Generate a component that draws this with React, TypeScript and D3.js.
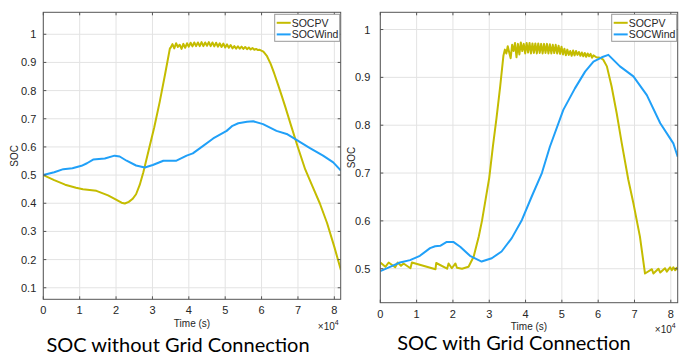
import * as d3 from "d3"

const xTicks = [0, 1, 2, 3, 4, 5, 6, 7, 8]
const yTicksNoGrid = [0.1, 0.2, 0.3, 0.4, 0.5, 0.6, 0.7, 0.8, 0.9, 1]
const yTicksGrid = [0.5, 0.6, 0.7, 0.8, 0.9, 1]
const seriesNames = ["SOCPV", "SOCWind"]
const titles = ["SOC without Grid Connection", "SOC with Grid Connection"]

// [time (x1e4 s), SOC]
const pvNoGrid: [number, number][] = [
  [0, 0.5], [0.3, 0.482], [0.6, 0.466], [0.9, 0.455], [1.09, 0.45], [1.46, 0.444], [1.78, 0.428],
  [2.0, 0.413], [2.15, 0.402], [2.24, 0.399], [2.35, 0.405], [2.45, 0.415], [2.55, 0.432], [2.65, 0.465],
  [2.75, 0.51], [2.9, 0.59], [3.05, 0.67], [3.2, 0.76], [3.35, 0.86], [3.48, 0.95],
  [3.5, 0.952], [3.55, 0.965], [3.6, 0.95], [3.65, 0.968], [3.7, 0.955], [3.75, 0.963], [3.8, 0.948],
  [3.85, 0.966], [3.9, 0.952], [3.95, 0.968], [4.0, 0.956], [4.05, 0.97], [4.1, 0.957], [4.15, 0.971],
  [4.2, 0.958], [4.25, 0.971], [4.3, 0.958], [4.35, 0.972], [4.4, 0.958], [4.45, 0.971], [4.5, 0.959],
  [4.55, 0.972], [4.6, 0.958], [4.65, 0.971], [4.7, 0.957], [4.75, 0.97], [4.8, 0.956], [4.85, 0.968],
  [4.9, 0.955], [4.95, 0.967], [5.0, 0.953], [5.05, 0.964], [5.1, 0.952], [5.15, 0.962], [5.2, 0.95],
  [5.25, 0.958], [5.3, 0.949], [5.35, 0.957], [5.4, 0.949], [5.45, 0.956], [5.5, 0.948], [5.55, 0.955],
  [5.6, 0.947], [5.65, 0.953], [5.7, 0.946], [5.75, 0.951], [5.8, 0.945], [5.85, 0.948], [5.9, 0.944],
  [5.95, 0.945], [6.05, 0.938], [6.15, 0.922], [6.25, 0.895], [6.35, 0.86], [6.45, 0.822], [6.55, 0.783],
  [6.65, 0.743], [6.8, 0.68], [7.0, 0.598], [7.2, 0.52], [7.4, 0.46], [7.6, 0.4], [7.8, 0.33],
  [8.0, 0.245], [8.18, 0.163],
]
const windNoGrid: [number, number][] = [
  [0, 0.5], [0.3, 0.51], [0.55, 0.521], [0.8, 0.524], [1.05, 0.533], [1.2, 0.542], [1.37, 0.555],
  [1.69, 0.559], [1.96, 0.569], [2.1, 0.566], [2.29, 0.551], [2.55, 0.534], [2.79, 0.527], [3.01, 0.536],
  [3.3, 0.551], [3.66, 0.551], [3.94, 0.569], [4.11, 0.577], [4.3, 0.595], [4.67, 0.63], [5.04, 0.657],
  [5.2, 0.675], [5.36, 0.684], [5.6, 0.689], [5.77, 0.691], [6.04, 0.681], [6.41, 0.657], [6.69, 0.646],
  [6.96, 0.625], [7.33, 0.596], [7.69, 0.569], [7.97, 0.545], [8.18, 0.516],
]
const pvGrid: [number, number][] = [
  [0, 0.513], [0.14, 0.504], [0.23, 0.513], [0.41, 0.503], [0.48, 0.513], [0.57, 0.506], [0.64, 0.511],
  [0.83, 0.501], [0.87, 0.513], [1.52, 0.499], [1.54, 0.512], [1.84, 0.5], [1.88, 0.511], [1.97, 0.501],
  [2.07, 0.511], [2.11, 0.502], [2.25, 0.5], [2.43, 0.504], [2.57, 0.525], [2.71, 0.567], [2.8, 0.6],
  [2.9, 0.645], [3.0, 0.69], [3.1, 0.755], [3.2, 0.815], [3.3, 0.88], [3.39, 0.945],
  [3.43, 0.958], [3.47, 0.95], [3.51, 0.965], [3.55, 0.952], [3.59, 0.94], [3.63, 0.968], [3.67, 0.955],
  [3.71, 0.972], [3.75, 0.942], [3.79, 0.97], [3.83, 0.948], [3.87, 0.973], [3.91, 0.955], [3.95, 0.97],
  [3.99, 0.95], [4.03, 0.972], [4.07, 0.952], [4.11, 0.972], [4.15, 0.95], [4.19, 0.971], [4.23, 0.951],
  [4.27, 0.971], [4.31, 0.95], [4.35, 0.971], [4.39, 0.951], [4.43, 0.97], [4.47, 0.95], [4.51, 0.97],
  [4.55, 0.951], [4.59, 0.97], [4.63, 0.95], [4.67, 0.969], [4.71, 0.95], [4.75, 0.968], [4.79, 0.951],
  [4.83, 0.968], [4.87, 0.95], [4.91, 0.966], [4.95, 0.949], [4.99, 0.964], [5.03, 0.948], [5.07, 0.96],
  [5.11, 0.946], [5.15, 0.958], [5.19, 0.947], [5.23, 0.955], [5.27, 0.945], [5.31, 0.956], [5.35, 0.946],
  [5.39, 0.955], [5.43, 0.947], [5.47, 0.953], [5.51, 0.945], [5.55, 0.952], [5.59, 0.944], [5.63, 0.951],
  [5.67, 0.943], [5.71, 0.95], [5.75, 0.944], [5.79, 0.949], [5.83, 0.941], [5.87, 0.946], [5.95, 0.942],
  [6.05, 0.941], [6.14, 0.937], [6.24, 0.923], [6.37, 0.881], [6.51, 0.825], [6.65, 0.762], [6.83, 0.686],
  [6.97, 0.637], [7.15, 0.567], [7.29, 0.49], [7.48, 0.499], [7.52, 0.49], [7.66, 0.5], [7.71, 0.492],
  [7.84, 0.501], [7.89, 0.494], [7.98, 0.503], [8.03, 0.497], [8.07, 0.503], [8.12, 0.497], [8.16, 0.502],
  [8.19, 0.497],
]
const windGrid: [number, number][] = [
  [0, 0.495], [0.27, 0.504], [0.54, 0.513], [0.82, 0.518], [1.09, 0.527], [1.37, 0.543], [1.51, 0.547],
  [1.65, 0.548], [1.83, 0.556], [2.01, 0.556], [2.2, 0.546], [2.47, 0.527], [2.79, 0.515], [3.07, 0.522],
  [3.34, 0.536], [3.62, 0.564], [3.9, 0.602], [4.17, 0.651], [4.45, 0.7], [4.67, 0.755], [5.04, 0.832],
  [5.36, 0.877], [5.64, 0.912], [5.87, 0.933], [6.1, 0.942], [6.28, 0.947], [6.6, 0.923], [6.97, 0.902],
  [7.34, 0.863], [7.71, 0.804], [8.07, 0.762], [8.19, 0.734],
]

const PV = "#c4bc00"
const WIND = "#20a0f8"
const TXT = "#262626"

interface Box { l: number; t: number; r: number; b: number }
interface PanelProps {
  box: Box; xMax: number; yDom: [number, number]; yTicks: number[]
  pv: [number, number][]; wind: [number, number][]
  title: string; titleX: number; titleY: number; labGap: number
  xLabY: number; expY: number
}

function Panel({ box, xMax, yDom, yTicks, pv, wind, title, titleX, titleY, labGap, xLabY, expY }: PanelProps) {
  const x = d3.scaleLinear().domain([0, xMax]).range([box.l, box.r])
  const y = d3.scaleLinear().domain(yDom).range([box.b, box.t])
  const line = d3.line<[number, number]>().x(d => x(d[0])).y(d => y(d[1]))
  const tk = 3
  const lg = { l: box.r - 66, t: box.t + 2, w: 65, h: 27 }
  const rows = [{ name: seriesNames[0], c: PV }, { name: seriesNames[1], c: WIND }]
  return (
    <g>
      <rect x={box.l} y={box.t} width={box.r - box.l} height={box.b - box.t} fill="#fff" />
      {xTicks.map(t => <line key={"gx" + t} x1={x(t)} x2={x(t)} y1={box.t} y2={box.b} stroke="#e3e3e3" />)}
      {yTicks.map(t => <line key={"gy" + t} x1={box.l} x2={box.r} y1={y(t)} y2={y(t)} stroke="#e3e3e3" />)}
      <g clipPath={`url(#clip${box.l})`}>
        <path d={line(pv)!} fill="none" stroke={PV} strokeWidth={2} strokeLinejoin="round" />
        <path d={line(wind)!} fill="none" stroke={WIND} strokeWidth={2} strokeLinejoin="round" />
      </g>
      <clipPath id={`clip${box.l}`}><rect x={box.l} y={box.t} width={box.r - box.l} height={box.b - box.t} /></clipPath>
      {xTicks.map(t => (
        <g key={"tx" + t}>
          <line x1={x(t)} x2={x(t)} y1={box.b} y2={box.b - tk} stroke="#555" />
          <line x1={x(t)} x2={x(t)} y1={box.t} y2={box.t + tk} stroke="#555" />
          <text x={x(t)} y={box.b + 15} textAnchor="middle" fontSize={11} fill={TXT}>{t}</text>
        </g>
      ))}
      {yTicks.map(t => (
        <g key={"ty" + t}>
          <line x1={box.l} x2={box.l + tk} y1={y(t)} y2={y(t)} stroke="#555" />
          <line x1={box.r} x2={box.r - tk} y1={y(t)} y2={y(t)} stroke="#555" />
          <text x={box.l - labGap} y={y(t) + 4} textAnchor="end" fontSize={11} fill={TXT}>{d3.format("~g")(t)}</text>
        </g>
      ))}
      <rect x={box.l} y={box.t} width={box.r - box.l} height={box.b - box.t} fill="none" stroke="#555" />
      <text x={(box.l + box.r) / 2} y={xLabY} textAnchor="middle" fontSize={10} fill={TXT}>Time (s)</text>
      <text x={box.r - 2} y={expY} textAnchor="end" fontSize={10} fill={TXT}>
        <tspan>×10</tspan><tspan dy={-5} fontSize={7}>4</tspan>
      </text>
      <text transform={`translate(${box.l - 25},${(box.t + box.b) / 2}) rotate(-90)`} textAnchor="middle" fontSize={10} fill={TXT}>SOC</text>
      <rect x={lg.l} y={lg.t} width={lg.w} height={lg.h} fill="#fff" stroke="#999" />
      {rows.map((r, i) => (
        <g key={r.name}>
          <line x1={lg.l + 2} x2={lg.l + 16} y1={lg.t + 8.5 + i * 11.6} y2={lg.t + 8.5 + i * 11.6} stroke={r.c} strokeWidth={2} />
          <text x={lg.l + 17} y={lg.t + 12.3 + i * 11.6} fontSize={10.5} fill={TXT}>{r.name}</text>
        </g>
      ))}
      <text x={titleX} y={titleY} textAnchor="middle" fontFamily="Lato" fontSize={20} fill="#000">{title}</text>
    </g>
  )
}

export default function App() {
  return (
    <svg width={687} height={356} style={{ position: "absolute", left: 0, top: 0, background: "#fff" }}
      fontFamily="'Liberation Sans', Arial, sans-serif">
      <rect width={687} height={356} fill="#fff" />
      <Panel box={{ l: 43.3, t: 12.3, r: 340.7, b: 299.3 }} xMax={8.175} yDom={[0.059, 1.078]} yTicks={yTicksNoGrid}
        pv={pvNoGrid} wind={windNoGrid} title={titles[0]} titleX={178} titleY={351.5} labGap={7} xLabY={326.5} expY={330} />
      <Panel box={{ l: 380.3, t: 12.3, r: 677.7, b: 302.7 }} xMax={8.19} yDom={[0.429, 1.036]} yTicks={yTicksGrid}
        pv={pvGrid} wind={windGrid} title={titles[1]} titleX={514} titleY={350} labGap={10} xLabY={329.5} expY={333} />
    </svg>
  )
}
